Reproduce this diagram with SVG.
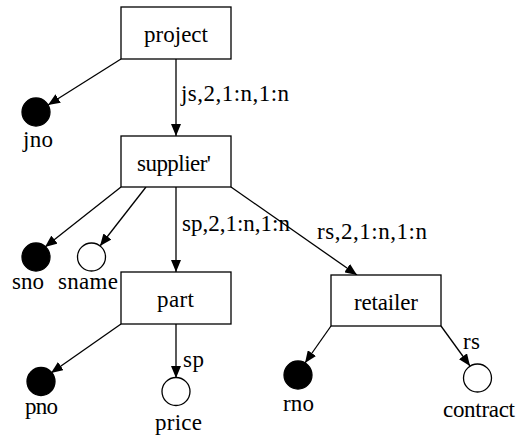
<svg xmlns="http://www.w3.org/2000/svg" width="516" height="436" viewBox="0 0 516 436">
<style>
rect.n{fill:#fff;stroke:#000;stroke-width:1.3}
circle.k{fill:#000;stroke:#000;stroke-width:1.3}
circle.w{fill:#fff;stroke:#000;stroke-width:1.3}
text{font-family:"Liberation Serif","Times New Roman",serif;font-size:23px;fill:#000}
.e line{stroke:#000;stroke-width:1.3;marker-end:url(#ah)}
</style>
<defs>
<marker id="ah" viewBox="0 0 12 10" refX="12" refY="5" markerWidth="12" markerHeight="10" markerUnits="userSpaceOnUse" orient="auto">
<path d="M0,0 L12,5 L0,10 z" fill="#000"/>
</marker>
</defs>
<rect width="516" height="436" fill="#fff"/>
<g class="e" id="edges">
<line x1="121" y1="59" x2="48" y2="105"/>
<line x1="176" y1="59" x2="176" y2="136"/>
<line x1="121" y1="187" x2="45" y2="247"/>
<line x1="146" y1="187" x2="100" y2="246"/>
<line x1="176" y1="187" x2="176" y2="272"/>
<line x1="231" y1="187" x2="357" y2="275"/>
<line x1="121" y1="324" x2="51" y2="373"/>
<line x1="176" y1="324" x2="176" y2="378"/>
<line x1="331" y1="326" x2="305" y2="363"/>
<line x1="441" y1="326" x2="470" y2="366"/>
<text x="181" y="101" textLength="108" lengthAdjust="spacing">js,2,1:n,1:n</text>
<text x="182" y="231" textLength="108" lengthAdjust="spacing">sp,2,1:n,1:n</text>
<text x="317" y="239" textLength="110" lengthAdjust="spacing">rs,2,1:n,1:n</text>
<text x="183" y="367" textLength="21" lengthAdjust="spacing">sp</text>
<text x="463" y="349" textLength="17" lengthAdjust="spacing">rs</text>
</g>
<g id="project"><rect class="n" x="121" y="7" width="110" height="52"/><text x="144" y="42" textLength="64" lengthAdjust="spacing">project</text></g>
<g id="supplier"><rect class="n" x="121" y="136" width="110" height="51"/><text x="137" y="171" textLength="74" lengthAdjust="spacing">supplier'</text></g>
<g id="part"><rect class="n" x="121" y="272" width="110" height="52"/><text x="157" y="307" textLength="37" lengthAdjust="spacing">part</text></g>
<g id="retailer"><rect class="n" x="331" y="275" width="110" height="51"/><text x="354" y="310" textLength="64" lengthAdjust="spacing">retailer</text></g>
<g id="jno"><circle class="k" cx="36" cy="112" r="14"/><text x="23" y="147" textLength="30" lengthAdjust="spacing">jno</text></g>
<g id="sno"><circle class="k" cx="36" cy="257" r="14"/><text x="12" y="289" textLength="32" lengthAdjust="spacing">sno</text></g>
<g id="sname"><circle class="w" cx="91.5" cy="257" r="14"/><text x="58" y="289" textLength="60" lengthAdjust="spacing">sname</text></g>
<g id="pno"><circle class="k" cx="41" cy="381.5" r="14"/><text x="25" y="414" textLength="33" lengthAdjust="spacing">pno</text></g>
<g id="price"><circle class="w" cx="176" cy="391.5" r="14"/><text x="155" y="430" textLength="47" lengthAdjust="spacing">price</text></g>
<g id="rno"><circle class="k" cx="298" cy="375" r="14"/><text x="283" y="411" textLength="31" lengthAdjust="spacing">rno</text></g>
<g id="contract"><circle class="w" cx="477.5" cy="378" r="14"/><text x="443" y="417" textLength="72" lengthAdjust="spacing">contract</text></g>
</svg>
